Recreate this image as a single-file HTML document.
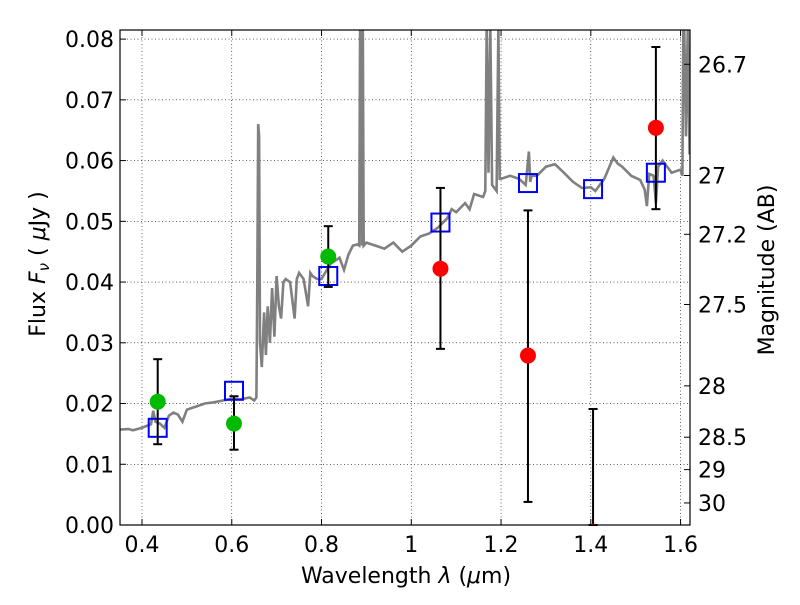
<!DOCTYPE html>
<html><head><meta charset="utf-8"><style>
body{margin:0;background:#fff;}
svg text{font-family:"DejaVu Sans","Liberation Sans",sans-serif;fill:#000;}
</style></head><body>
<svg id="chart" width="800" height="600" xmlns="http://www.w3.org/2000/svg">
<g id="grid"></g>
<g id="spec"></g>
<g id="marks"></g>
<g id="axes"></g>
<text x="406" y="583" font-size="22" text-anchor="middle">Wavelength  <tspan font-style="italic">λ</tspan> (<tspan font-style="italic">μ</tspan>m)</text>
<text transform="translate(45,264) rotate(-90)" font-size="22" text-anchor="middle">Flux  <tspan font-style="italic">F</tspan><tspan font-style="italic" font-size="15" dy="4">ν</tspan><tspan dy="-4">  (  </tspan><tspan font-style="italic">μ</tspan>Jy )</text>
<text transform="translate(774,270) rotate(-90)" font-size="22" text-anchor="middle">Magnitude (AB)</text>
</svg>
<script>
const xTicks=[0.4,0.6,0.8,1.0,1.2,1.4,1.6];
const xTickLabels=["0.4","0.6","0.8","1","1.2","1.4","1.6"];
const yTicks=[0,0.01,0.02,0.03,0.04,0.05,0.06,0.07,0.08];
const yTickLabels=["0.00","0.01","0.02","0.03","0.04","0.05","0.06","0.07","0.08"];
const magTicks=[26.7,27,27.2,27.5,28,28.5,29,30];
const magLabels=["26.7","27","27.2","27.5","28","28.5","29","30"];
const greenX=[0.435,0.605,0.815];
const greenY=[0.0203,0.0167,0.0442];
const greenLo=[0.0133,0.0124,0.0392];
const greenHi=[0.0273,0.0212,0.0492];
const redX=[1.065,1.26,1.405,1.545];
const redY=[0.0422,0.0279,-0.0011,0.0654];
const redLo=[0.0290,0.0038,0.0,0.0520];
const redHi=[0.0555,0.0518,0.0191,0.0787];
const modelX=[0.435,0.605,0.815,1.065,1.26,1.405,1.545];
const modelY=[0.0160,0.0221,0.0410,0.0498,0.0563,0.0553,0.0580];
const specX=[0.35,0.37,0.38,0.40,0.41,0.42,0.425,0.43,0.44,0.45,0.46,0.47,0.48,0.49,0.50,0.52,0.54,0.56,0.58,0.60,0.62,0.64,0.65,0.655,0.657,0.659,0.661,0.663,0.667,0.672,0.676,0.68,0.685,0.69,0.695,0.70,0.705,0.71,0.715,0.72,0.73,0.74,0.745,0.75,0.76,0.77,0.775,0.78,0.79,0.80,0.82,0.83,0.84,0.85,0.86,0.87,0.88,0.884,0.886,0.888,0.890,0.892,0.894,0.90,0.92,0.94,0.96,0.98,1.0,1.02,1.04,1.06,1.08,1.09,1.10,1.12,1.13,1.14,1.16,1.165,1.168,1.172,1.176,1.18,1.19,1.194,1.197,1.20,1.22,1.24,1.255,1.262,1.265,1.268,1.28,1.30,1.32,1.34,1.36,1.38,1.40,1.41,1.43,1.45,1.46,1.47,1.49,1.51,1.52,1.525,1.53,1.54,1.545,1.55,1.56,1.58,1.60,1.604,1.606,1.608,1.612,1.616,1.62];
const specY=[0.0157,0.0158,0.0156,0.016,0.0163,0.0166,0.0188,0.017,0.0167,0.016,0.018,0.0185,0.0182,0.017,0.019,0.0195,0.020,0.0202,0.0205,0.0208,0.0207,0.021,0.0205,0.021,0.040,0.066,0.064,0.030,0.026,0.035,0.028,0.036,0.030,0.039,0.031,0.041,0.036,0.034,0.040,0.0405,0.040,0.034,0.0405,0.0415,0.0405,0.036,0.0415,0.041,0.0405,0.0405,0.043,0.0435,0.044,0.042,0.0445,0.046,0.0462,0.046,0.09,0.09,0.046,0.09,0.046,0.0465,0.046,0.0455,0.0465,0.045,0.046,0.0475,0.048,0.049,0.0505,0.052,0.0515,0.053,0.052,0.0545,0.054,0.055,0.09,0.058,0.09,0.056,0.055,0.09,0.057,0.057,0.0575,0.057,0.056,0.0615,0.0565,0.0575,0.0575,0.059,0.0594,0.058,0.0565,0.0555,0.0556,0.055,0.057,0.0605,0.0595,0.059,0.0575,0.0568,0.0552,0.0525,0.0578,0.0575,0.053,0.059,0.060,0.058,0.0585,0.0575,0.09,0.09,0.064,0.09,0.061];
const L=120,R=690,T=30,B=525,xmin=0.351,xmax=1.621,ymin=0,ymax=0.0815;
const sx=v=>L+(v-xmin)/(xmax-xmin)*(R-L);
const sy=v=>B-(v-ymin)/(ymax-ymin)*(B-T);
const NS="http://www.w3.org/2000/svg";
function mk(tag,attrs,parent){const e=document.createElementNS(NS,tag);for(const k in attrs)e.setAttribute(k,attrs[k]);parent.appendChild(e);return e;}
const grid=document.getElementById('grid'),axes=document.getElementById('axes'),spec=document.getElementById('spec'),marks=document.getElementById('marks');
xTicks.forEach((t,i)=>{const x=sx(t);
 const g=mk('line',{x1:x,x2:x,y1:T,y2:B,stroke:'#000','stroke-width':0.6,'stroke-dasharray':'1,2.5'},grid);
 
 mk('line',{x1:x,x2:x,y1:B,y2:B-6,stroke:'#000'},axes);mk('line',{x1:x,x2:x,y1:T,y2:T+6,stroke:'#000'},axes);
 const tx=mk('text',{x:x,y:B+27,'font-size':22,'text-anchor':'middle'},axes);tx.textContent=xTickLabels[i];
 });
yTicks.forEach((t,i)=>{const y=sy(t);
 const g=mk('line',{x1:L,x2:R,y1:y,y2:y,stroke:'#000','stroke-width':0.6,'stroke-dasharray':'1,2.5'},grid);
 
 mk('line',{x1:L,x2:L+6,y1:y,y2:y,stroke:'#000'},axes);
 const tx=mk('text',{x:L-6,y:y+8,'font-size':22,'text-anchor':'end'},axes);tx.textContent=yTickLabels[i];
 });
magTicks.forEach((m,i)=>{const y=sy(Math.pow(10,(23.9-m)/2.5));
 mk('line',{x1:R,x2:R-6,y1:y,y2:y,stroke:'#000'},axes);
 const tx=mk('text',{x:R+8,y:y+8,'font-size':22},axes);tx.textContent=magLabels[i];
 });
let d='';specX.forEach((v,i)=>{d+=(i?'L':'M')+sx(v).toFixed(1)+','+Math.max(sy(specY[i]),T-5).toFixed(1);});
const cp=mk('clipPath',{id:'cp'},spec);mk('rect',{x:L,y:T,width:R-L,height:B-T},cp);
const p=mk('path',{d:d,fill:'none',stroke:'#808080','stroke-width':2.6,'clip-path':'url(#cp)'},spec);

modelX.forEach((v,i)=>{const r=mk('rect',{x:sx(v)-9,y:sy(modelY[i])-9,width:18,height:18,fill:'none',stroke:'#0000ff','stroke-width':2},marks);
 });
function errbar(x,lo,hi){const X=sx(x);mk('line',{x1:X,x2:X,y1:sy(lo),y2:sy(hi),stroke:'#000','stroke-width':2},marks);
 mk('line',{x1:X-4.5,x2:X+4.5,y1:sy(lo),y2:sy(lo),stroke:'#000','stroke-width':2},marks);
 mk('line',{x1:X-4.5,x2:X+4.5,y1:sy(hi),y2:sy(hi),stroke:'#000','stroke-width':2},marks);}
greenX.forEach((v,i)=>{errbar(v,greenLo[i],greenHi[i]);const c=mk('circle',{cx:sx(v),cy:sy(greenY[i]),r:8,fill:'#00bb00'},marks);
 });
redX.forEach((v,i)=>{errbar(v,redLo[i],redHi[i]);const c=mk('circle',{cx:sx(v),cy:sy(redY[i]),r:8,fill:'#ff0000','clip-path':'url(#cp)'},marks);
 });
const fr=mk('rect',{x:L,y:T,width:R-L,height:B-T,fill:'none',stroke:'#000','stroke-width':1.2},axes);

</script>
</body></html>
